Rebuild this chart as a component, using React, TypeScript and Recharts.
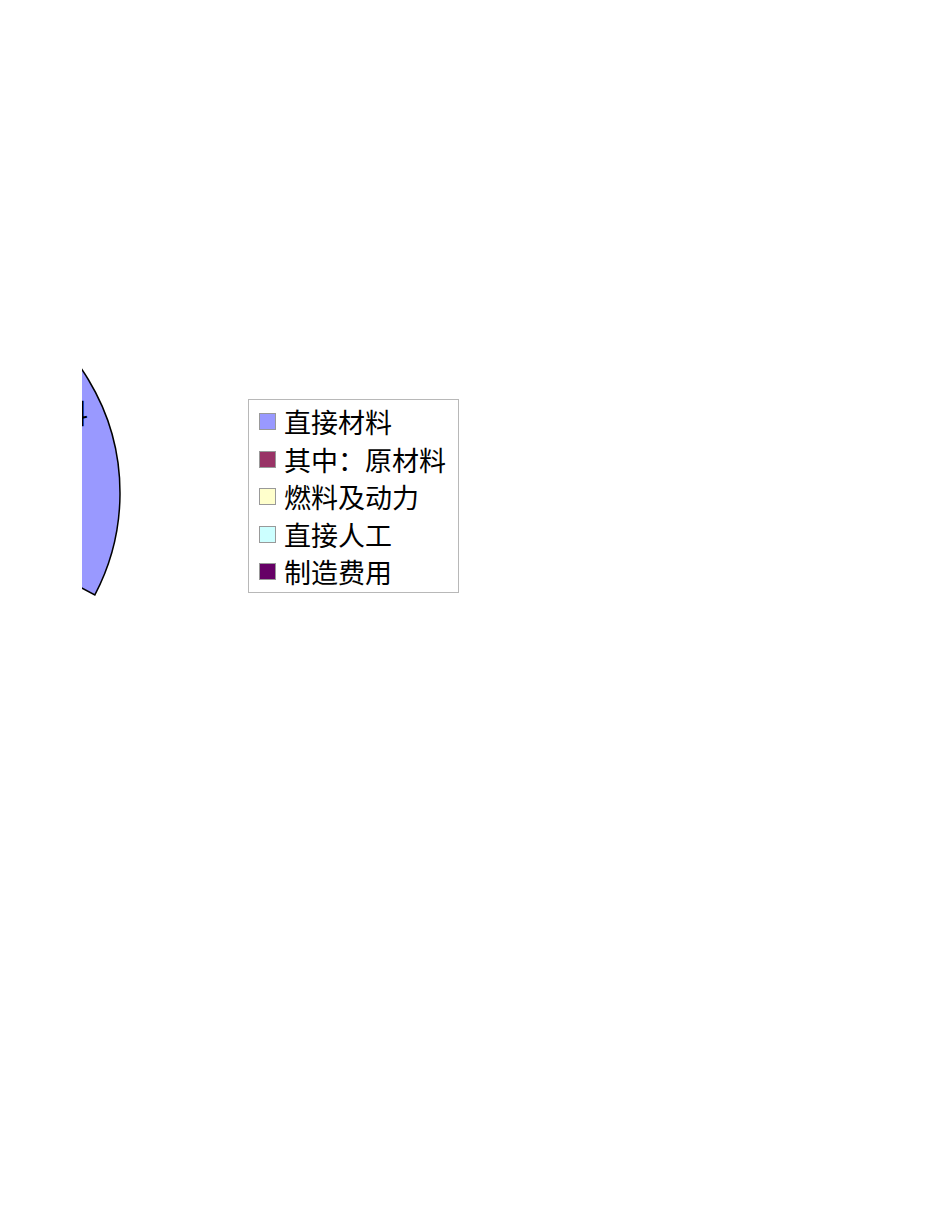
import React from "react";
import { PieChart, Pie, Cell, Legend } from "recharts";

const categories = ["直接材料", "其中：原材料", "燃料及动力", "直接人工", "制造费用"];
const values = [32.7, 28.0, 12.0, 15.0, 12.3];
const colors = ["#9999FF", "#993366", "#FFFFCC", "#CCFFFF", "#660066"];
// only the first sector is visible in the reference picture
const visible = [true, false, false, false, false];

const data = categories.map((name, i) => ({ name, value: values[i] }));

const RAD = Math.PI / 180;
const FONT = "'Noto Sans CJK SC', 'DejaVu Sans', sans-serif";

const renderLabel = (props: any) => {
  const { cx, cy, midAngle, outerRadius, name } = props;
  const r = outerRadius * 0.71;
  const x = cx + r * Math.cos(-midAngle * RAD);
  const y = cy + r * Math.sin(-midAngle * RAD);
  return (
    <text x={x} y={y} textAnchor="middle" dominantBaseline="central" fontSize={27} fontFamily={FONT} fill="#000">
      {name}
    </text>
  );
};

const LegendBox = () => (
  <div
    style={{
      width: 211,
      height: 194,
      boxSizing: "border-box",
      border: "1px solid #b8b8b8",
      background: "#fff",
      paddingTop: 3,
      fontFamily: FONT,
    }}
  >
    {categories.map((c, i) => (
      <div key={c} style={{ display: "flex", alignItems: "center", height: 37.5, paddingLeft: 10 }}>
        <span
          style={{
            display: "inline-block",
            width: 17,
            height: 17,
            boxSizing: "border-box",
            background: colors[i],
            border: "1px solid #999",
            marginRight: 8,
            flexShrink: 0,
          }}
        />
        <span style={{ fontSize: 27, lineHeight: "37px", color: "#000", whiteSpace: "nowrap" }}>{c}</span>
      </div>
    ))}
  </div>
);

export default function App() {
  return (
    <div style={{ marginLeft: 74, width: 868, height: 1000 }}>
      <PieChart
        width={868}
        height={1000}
        margin={{ top: 0, right: 0, bottom: 0, left: 0 }}
        style={{ overflow: "hidden" }}
      >
        <Pie
          data={data}
          dataKey="value"
          nameKey="name"
          cx={-181}
          cy={485}
          outerRadius={219}
          startAngle={90}
          endAngle={-270}
          stroke="#000"
          strokeWidth={1.5}
          label={renderLabel}
          labelLine={false}
          isAnimationActive={false}
        >
          {data.map((d, i) => (
            <Cell
              key={d.name}
              fill={colors[i]}
              fillOpacity={visible[i] ? 1 : 0}
              strokeOpacity={visible[i] ? 1 : 0}
            />
          ))}
        </Pie>
        <Legend
          content={<LegendBox />}
          layout="vertical"
          wrapperStyle={{ position: "absolute", left: 166, top: 391, width: 211, height: 194 }}
        />
      </PieChart>
    </div>
  );
}
